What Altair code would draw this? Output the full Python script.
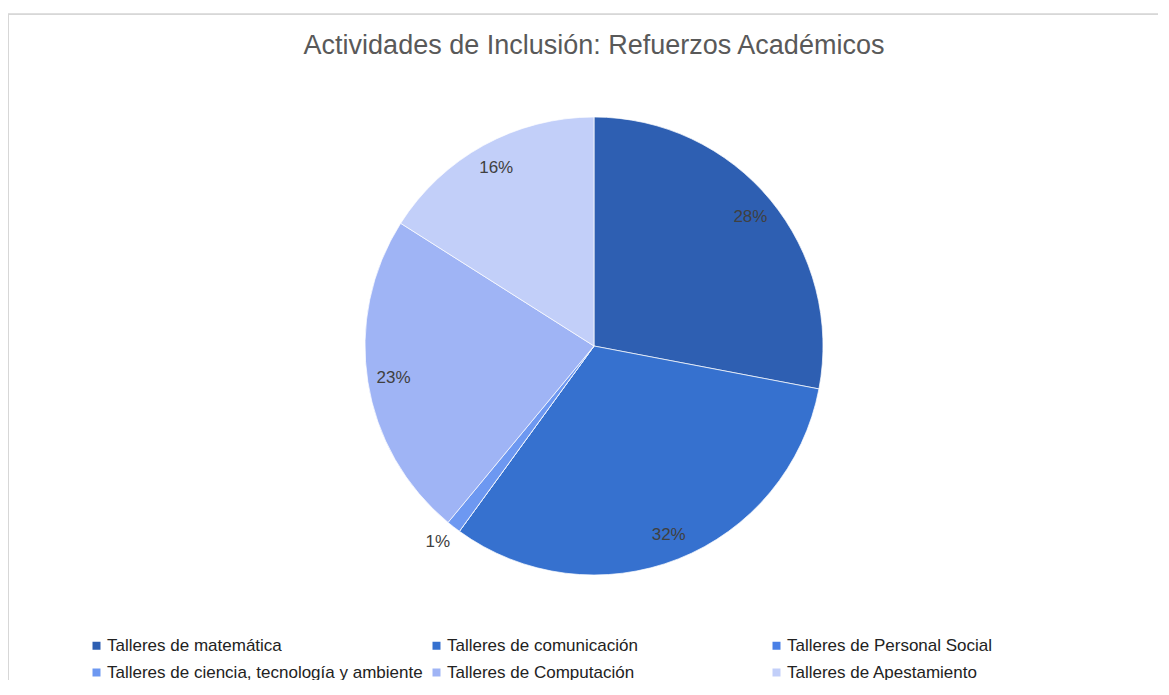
import altair as alt
import pandas as pd

categories = [
    "Talleres de matemática",
    "Talleres de comunicación",
    "Talleres de Personal Social",
    "Talleres de ciencia, tecnología y  ambiente",
    "Talleres de Computación",
    "Talleres de Apestamiento",
]
values = [28, 32, 0, 1, 23, 16]
colors = ["#2e5fb2", "#3671cf", "#4a80e6", "#6d98f1", "#9fb4f5", "#c2cff9"]
title_text = "Actividades de Inclusión: Refuerzos Académicos"

df = pd.DataFrame({
    "cat": categories,
    "v": values,
    "idx": list(range(len(categories))),
})

CX, CY, R = 586, 332, 229
W, H = 1150, 666

base = alt.Chart(df).encode(
    theta=alt.Theta("v:Q", stack=True),
    order=alt.Order("idx:Q"),
)

pie = base.mark_arc(radius=R, stroke="white", strokeWidth=0.7).encode(
    x=alt.value(CX),
    y=alt.value(CY),
    color=alt.Color(
        "cat:N",
        sort=categories,
        scale=alt.Scale(domain=categories, range=colors),
        legend=alt.Legend(
            title=None,
            orient="none",
            legendX=80,
            legendY=623,
            direction="horizontal",
            columns=3,
            gridAlign="all",
            columnPadding=-6,
            rowPadding=9,
            symbolType="square",
            symbolSize=64,
            symbolStrokeWidth=0,
            labelFont="Liberation Sans",
            labelFontSize=17,
            labelColor="#222222",
            labelOffset=2,
            labelLimit=400,
        ),
    ),
)

inner_labels = base.transform_calculate(
    lbl="datum.v >= 5 ? datum.v + '%' : ''",
).mark_text(
    radius=203, font="Liberation Sans", fontSize=17, color="#404040"
).encode(
    x=alt.value(CX),
    y=alt.value(CY),
    text="lbl:N",
)

outer_labels = base.transform_calculate(
    lbl="datum.v > 0 && datum.v < 5 ? datum.v + '%' : ''",
).mark_text(
    radius=250, font="Liberation Sans", fontSize=17, color="#404040"
).encode(
    x=alt.value(CX - 3),
    y=alt.value(CY - 2),
    text="lbl:N",
)

title = alt.Chart(pd.DataFrame({"t": [title_text]})).mark_text(
    font="Liberation Sans", fontSize=27, color="#595959", baseline="middle", align="center"
).encode(
    x=alt.value(CX),
    y=alt.value(32),
    text="t:N",
)

border_top = alt.Chart(pd.DataFrame({"b": [0]})).mark_rule(
    color="#d4d4d4", strokeWidth=1.5
).encode(x=alt.value(0), x2=alt.value(W), y=alt.value(0))

border_left = alt.Chart(pd.DataFrame({"b": [0]})).mark_rule(
    color="#d4d4d4", strokeWidth=1.5
).encode(x=alt.value(0), y=alt.value(0), y2=alt.value(H))

chart = alt.layer(border_top, border_left, pie, inner_labels, outer_labels, title).properties(
    width=W,
    height=H,
    padding={"left": 0, "top": 6, "right": 0, "bottom": 0},
    autosize=alt.AutoSizeParams(type="none"),
).configure_view(
    stroke="transparent", strokeWidth=0
).configure(background="white")

chart.save("out.html", embed_options={"renderer": "svg", "actions": False})
